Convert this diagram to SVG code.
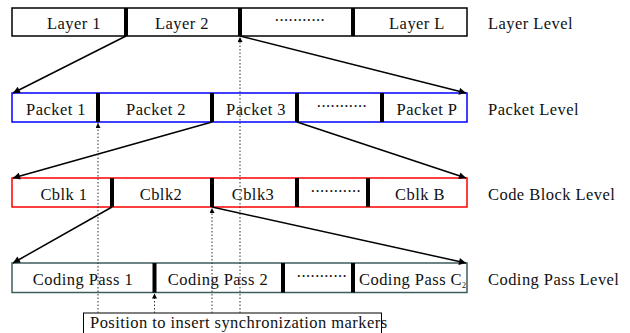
<svg xmlns="http://www.w3.org/2000/svg" width="630" height="333" viewBox="0 0 630 333">
<style>
  text { font-family: "Liberation Serif", "Times New Roman", serif; font-size: 16.5px; letter-spacing: 0.45px; fill: #111; }
  .c { text-anchor: middle; }
  .box { fill: #fff; stroke-width: 1.5; }
  .sep { fill: #000; }
  .arrow { stroke: #000; stroke-width: 1.5; fill: none; marker-end: url(#ah); }
  .dot { stroke: #333; stroke-width: 1; stroke-dasharray: 1.5 2; fill: none; marker-end: url(#ahs); }
</style>
<defs>
  <marker id="ah" viewBox="0 0 10 10" refX="10" refY="5" markerWidth="9" markerHeight="7" markerUnits="userSpaceOnUse" orient="auto">
    <path d="M0,0 L10,5 L0,10 z" fill="#000"/>
  </marker>
  <marker id="ahs" viewBox="0 0 10 10" refX="10" refY="5" markerWidth="6" markerHeight="5" markerUnits="userSpaceOnUse" orient="auto">
    <path d="M0,0 L10,5 L0,10 z" fill="#000"/>
  </marker>
</defs>
<rect width="630" height="333" fill="#fff"/>

<g id="layer-row">
  <rect class="box" x="12" y="8" width="455" height="28" stroke="#000"/>
  <rect class="sep" x="124" y="8" width="4" height="28"/>
  <rect class="sep" x="238" y="8" width="4" height="28"/>
  <rect class="sep" x="351" y="8" width="4" height="28"/>
  <text class="c" x="74" y="29">Layer 1</text>
  <text class="c" x="182" y="29">Layer 2</text>
  <text class="c" x="300" y="21">...........</text>
  <text class="c" x="417" y="29">Layer L</text>
  <text x="488" y="29">Layer Level</text>
</g>

<g id="packet-row">
  <rect class="box" x="12" y="93" width="455" height="29" stroke="#0000ff"/>
  <rect class="sep" x="96" y="93" width="4" height="29"/>
  <rect class="sep" x="210" y="93" width="4" height="29"/>
  <rect class="sep" x="295" y="93" width="4" height="29"/>
  <rect class="sep" x="380" y="93" width="4" height="29"/>
  <text class="c" x="56" y="115">Packet 1</text>
  <text class="c" x="156" y="115">Packet 2</text>
  <text class="c" x="256" y="115">Packet 3</text>
  <text class="c" x="342" y="107">...........</text>
  <text class="c" x="427" y="115">Packet P</text>
  <text x="488" y="115">Packet Level</text>
</g>

<g id="codeblock-row">
  <rect class="box" x="12" y="178" width="455" height="29" stroke="#ff0000"/>
  <rect class="sep" x="110" y="178" width="4" height="29"/>
  <rect class="sep" x="210" y="178" width="4" height="29"/>
  <rect class="sep" x="295" y="178" width="4" height="29"/>
  <rect class="sep" x="366" y="178" width="4" height="29"/>
  <text class="c" x="64" y="200">Cblk 1</text>
  <text class="c" x="161" y="200">Cblk2</text>
  <text class="c" x="253" y="200">Cblk3</text>
  <text class="c" x="336" y="192">...........</text>
  <text class="c" x="420" y="200">Cblk B</text>
  <text x="488" y="200">Code Block Level</text>
</g>

<g id="codingpass-row">
  <rect class="box" x="12" y="263" width="455" height="29.5" stroke="#3d5c5c"/>
  <rect class="sep" x="152.5" y="263" width="4" height="29.5"/>
  <rect class="sep" x="281" y="263" width="4" height="29.5"/>
  <rect class="sep" x="351" y="263" width="4" height="29.5"/>
  <text class="c" x="83" y="285">Coding Pass 1</text>
  <text class="c" x="218" y="285">Coding Pass 2</text>
  <text class="c" x="322" y="277">...........</text>
  <text x="359" y="285" letter-spacing="0.2">Coding Pass C<tspan font-size="8" dy="3">2</tspan></text>
  <text x="488" y="285">Coding Pass Level</text>
</g>

<g id="note">
  <rect x="83.5" y="313" width="298" height="24" fill="none" stroke="#000" stroke-width="1"/>
  <text x="90" y="328">Position to insert synchronization markers</text>
</g>

<g id="connectors">
  <line class="arrow" x1="126" y1="36" x2="13" y2="93"/>
  <line class="arrow" x1="240" y1="36" x2="466" y2="93"/>
  <line class="arrow" x1="212" y1="122" x2="13" y2="178"/>
  <line class="arrow" x1="297" y1="122" x2="466" y2="178"/>
  <line class="arrow" x1="112" y1="207" x2="13" y2="263"/>
  <line class="arrow" x1="212" y1="207" x2="466" y2="263"/>
  <line class="dot" x1="240" y1="313" x2="240" y2="37"/>
  <line class="dot" x1="98" y1="313" x2="98" y2="123"/>
  <line class="dot" x1="212" y1="313" x2="212" y2="208"/>
  <line class="dot" x1="154.5" y1="313" x2="154.5" y2="293.5"/>
</g>
</svg>
